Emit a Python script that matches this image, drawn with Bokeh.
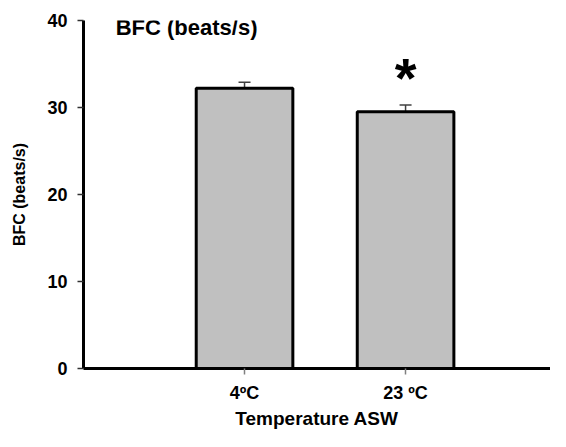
from bokeh.plotting import figure
from bokeh.models import ColumnDataSource, Whisker, TeeHead, FixedTicker, Label, Range1d
from bokeh.core.properties import value
from bokeh.embed import file_html
from bokeh.resources import INLINE

# Data
categories = ["4ºC", "23 ºC"]
bfc_mean = [32.2, 29.5]
bfc_sem = [0.7, 0.8]
significance = ["", "*"]
y_ticks = [0, 10, 20, 30, 40]

xs = list(range(1, len(categories) + 1))
upper = [m + s for m, s in zip(bfc_mean, bfc_sem)]
src = ColumnDataSource(dict(x=xs, top=bfc_mean, upper=upper))

FONT = "Liberation Sans"

p = figure(width=550, height=431, output_backend="svg", toolbar_location=None,
           x_range=Range1d(0, 2.9), y_range=Range1d(0, 40),
           min_border_left=83, min_border_right=0, min_border_top=20, min_border_bottom=63)
p.outline_line_color = None
p.xgrid.visible = False
p.ygrid.visible = False
p.background_fill_color = "white"

p.vbar(x="x", top="top", bottom=0, width=0.6, source=src,
       fill_color="#c0c0c0", line_color="black", line_width=3)

w = Whisker(base="x", lower="top", upper="upper", source=src,
            line_color="#404040", line_width=1.5,
            upper_head=TeeHead(size=12, line_color="#404040", line_width=1.5),
            lower_head=None)
p.add_layout(w)

# significance marker
sig_src = ColumnDataSource(dict(x=xs, y=[u + 3.2 for u in upper], t=significance))
p.text(x="x", y="y", text="t", source=sig_src, text_font=value(FONT),
       text_font_style="bold", text_font_size="56px", text_align="center",
       text_baseline="alphabetic", text_color="black")

# in-plot title
p.add_layout(Label(x=0.2, y=39.2, text="BFC (beats/s)", text_font=FONT,
                   text_font_style="bold", text_font_size="22px",
                   text_baseline="middle", text_color="black"))

# y axis
ya = p.yaxis[0]
ya.ticker = FixedTicker(ticks=y_ticks)
ya.minor_tick_line_color = None
ya.major_tick_in = 0
ya.major_tick_out = 6
ya.major_tick_line_width = 1.5
ya.major_tick_line_color = "#303030"
ya.axis_line_width = 3
ya.axis_line_color = "black"
ya.major_label_text_font = FONT
ya.major_label_text_font_style = "bold"
ya.major_label_text_font_size = "18px"
ya.major_label_text_color = "black"
ya.major_label_standoff = 10
ya.axis_label = "BFC (beats/s)"
ya.axis_label_text_font = FONT
ya.axis_label_text_font_style = "bold"
ya.axis_label_text_font_size = "16px"
ya.axis_label_text_color = "black"
ya.axis_label_standoff = 16

# x axis
xa = p.xaxis[0]
xa.ticker = FixedTicker(ticks=xs)
xa.major_label_overrides = {x: c for x, c in zip(xs, categories)}
xa.minor_tick_line_color = None
xa.major_tick_in = 0
xa.major_tick_out = 6
xa.major_tick_line_width = 1.5
xa.major_tick_line_color = "#808080"
xa.axis_line_width = 3
xa.axis_line_color = "black"
xa.major_label_text_font = FONT
xa.major_label_text_font_style = "bold"
xa.major_label_text_font_size = "18px"
xa.major_label_text_color = "black"
xa.major_label_standoff = 8
xa.axis_label = "Temperature ASW"
xa.axis_label_text_font = FONT
xa.axis_label_text_font_style = "bold"
xa.axis_label_text_font_size = "19px"
xa.axis_label_text_color = "black"
xa.axis_label_standoff = 2

open("out.html", "w").write(file_html(p, INLINE))
